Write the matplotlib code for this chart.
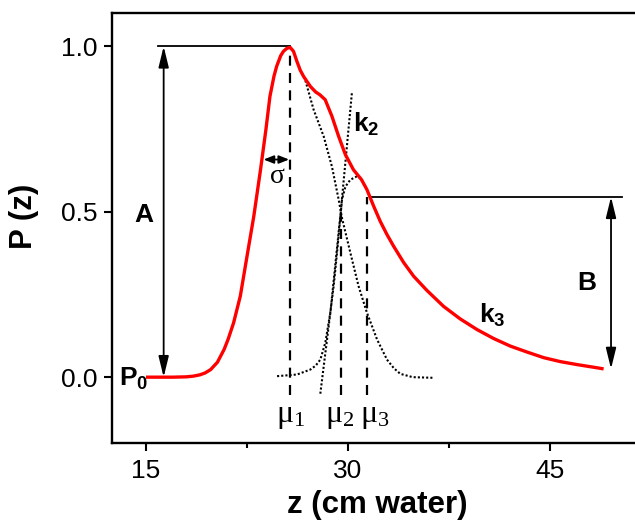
import matplotlib
matplotlib.use("Agg")
import matplotlib.pyplot as plt
from matplotlib.ticker import MultipleLocator

plt.rcParams['font.family'] = ['Liberation Sans', 'DejaVu Sans']
plt.rcParams['mathtext.fontset'] = 'custom'
plt.rcParams['mathtext.rm'] = 'Liberation Serif'
plt.rcParams['mathtext.it'] = 'Liberation Serif:italic'
plt.rcParams['mathtext.bf'] = 'Liberation Sans:bold'

# red fitted curve P(z)
red_z = [15.0, 17.0, 18.0, 18.5, 19.0, 19.4, 19.8, 20.3, 20.8, 21.1, 21.5, 22.0, 22.5,
         23.0, 23.5, 23.9, 24.2, 24.5, 24.7, 25.0, 25.2, 25.45, 25.7, 25.95, 26.2,
         26.45, 26.7, 27.2, 27.6, 27.9, 28.3, 28.8, 29.3, 29.8, 30.4, 31.0, 31.4,
         31.9, 32.39, 32.89, 33.38, 34.12, 34.87, 35.86, 37.09, 38.33, 39.57, 40.8,
         42.04, 43.28, 44.52, 45.76, 47.0, 48.23, 48.97]
red_p = [0.0, 0.0, 0.001, 0.003, 0.007, 0.013, 0.023, 0.045, 0.084, 0.115, 0.164, 0.245, 0.366,
         0.486, 0.627, 0.748, 0.849, 0.91, 0.94, 0.972, 0.985, 0.994, 0.997, 0.985, 0.955,
         0.928, 0.909, 0.879, 0.862, 0.854, 0.839, 0.789, 0.728, 0.673, 0.627, 0.597, 0.567,
         0.517, 0.471, 0.431, 0.396, 0.347, 0.305, 0.262, 0.214, 0.176, 0.144, 0.117,
         0.094, 0.076, 0.059, 0.047, 0.038, 0.030, 0.025]

# dotted component curves
g1_z = [26.83, 27.44, 28.19, 28.8, 29.3, 29.55, 30.17, 30.78, 31.4, 32.15, 32.89, 33.4, 33.88, 34.8, 36.35]
g1_p = [0.897, 0.809, 0.728, 0.637, 0.537, 0.481, 0.376, 0.275, 0.195, 0.114, 0.053, 0.027, 0.01, 0.0, -0.002]

g2_z = [24.73, 26.21, 27.2, 27.6, 27.94, 28.31, 28.68, 28.93, 29.18, 29.42, 29.55, 29.8, 30.17, 30.66, 31.04]
g2_p = [0.003, 0.008, 0.023, 0.035, 0.053, 0.104, 0.195, 0.275, 0.376, 0.48, 0.537, 0.576, 0.597, 0.607, 0.599]

k2_z = [27.94, 28.7, 29.48, 30.29]
k2_p = [-0.05, 0.2, 0.51, 0.862]

# dashed markers mu1, mu2, mu3
mu_z = [25.66, 29.48, 31.41]
mu_top = [0.975, 0.49, 0.545]
mu_bottom = -0.055
mu_labels = [r'$\mathrm{\mu_1}$', r'$\mathrm{\mu_2}$', r'$\mathrm{\mu_3}$']
mu_label_z = [24.65, 28.3, 30.85]

fig = plt.figure(figsize=(6.35, 5.27), dpi=100)
ax = fig.add_axes([0.1769, 0.1588, 0.8231, 0.8159])

dots = (0, (1, 1.0))
ax.plot(g1_z, g1_p, color='black', lw=1.5, ls=dots, zorder=2)
ax.plot(g2_z, g2_p, color='black', lw=1.5, ls=dots, zorder=2)
ax.plot(k2_z, k2_p, color='black', lw=1.5, ls=dots, zorder=2)
for z, t in zip(mu_z, mu_top):
    ax.plot([z, z], [mu_bottom, t], color='black', lw=1.6, ls=(0, (4.5, 3.3)), zorder=2)
ax.plot(red_z, red_p, color='#ff0000', lw=2.4, zorder=3, solid_capstyle='butt')

# A and B guides
ax.plot([15.86, 25.66], [1.0, 1.0], color='black', lw=1.3)
ax.plot([31.65, 50.34], [0.545, 0.545], color='black', lw=1.3)
arr = dict(arrowstyle='<|-|>,head_length=0.9,head_width=0.22', color='black', lw=1.3,
           shrinkA=0, shrinkB=0, mutation_scale=14)
ax.annotate('', xy=(16.31, 0.0), xytext=(16.31, 1.0), arrowprops=arr)
ax.annotate('', xy=(49.52, 0.025), xytext=(49.52, 0.545), arrowprops=arr)
arr2 = dict(arrowstyle='<|-|>,head_length=0.5,head_width=0.2', color='black', lw=1.3,
            shrinkA=0, shrinkB=0, mutation_scale=12)
ax.annotate('', xy=(23.73, 0.658), xytext=(25.62, 0.658), arrowprops=arr2)

ax.text(14.82, 0.49, 'A', fontsize=19, fontweight='bold', ha='center', va='center')
ax.text(47.74, 0.285, 'B', fontsize=19, fontweight='bold', ha='center', va='center')
ax.text(30.37, 0.742, r'$\mathbf{k_2}$', fontsize=19, ha='left', va='baseline')
ax.text(39.7, 0.164, r'$\mathbf{k_3}$', fontsize=19, ha='left', va='baseline')
ax.text(12.97, -0.027, r'$\mathbf{P_0}$', fontsize=19, ha='left', va='baseline')
ax.text(24.73, 0.607, 'σ', fontsize=20, family='Liberation Serif', ha='center', va='center')
for lab, z in zip(mu_labels, mu_label_z):
    ax.text(z, -0.135, lab, fontsize=23, ha='left', va='baseline')

ax.set_xlim(12.5, 51.3)
ax.set_ylim(-0.2, 1.1)
ax.set_xticks([15, 30, 45])
ax.xaxis.set_minor_locator(MultipleLocator(7.5))
ax.set_yticks([0.0, 0.5, 1.0])
ax.set_yticklabels(['0.0', '0.5', '1.0'])
ax.tick_params(axis='both', which='major', direction='out', length=6, width=1.5,
               labelsize=19, pad=5)
ax.tick_params(axis='x', which='minor', direction='out', length=3.5, width=1.5)
ax.tick_params(axis='y', which='minor', left=False)
for s in ax.spines.values():
    s.set_linewidth(1.7)
ax.spines['right'].set_visible(False)

fig.text(0.5937, 0.0417, 'z (cm water)', fontsize=22.5, fontweight='bold',
         ha='center', va='center')
fig.text(0.0378, 0.590, 'P (z)', fontsize=22.5, fontweight='bold',
         ha='center', va='center', rotation=90)

fig.savefig('out.png', dpi=100)
